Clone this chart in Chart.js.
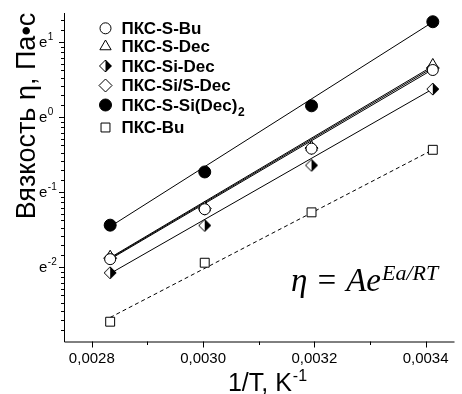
<!DOCTYPE html>
<html>
<head>
<meta charset="utf-8">
<script src="https://cdn.jsdelivr.net/npm/chart.js@4.4.1/dist/chart.umd.min.js"></script>
<style>
  html, body { margin: 0; padding: 0; background: #fff; }
  #wrap { width: 462px; height: 394px; }
</style>
</head>
<body>
<div id="wrap"><canvas id="chart" width="462" height="394"></canvas></div>
<script>
// 1/T, K^-1 (80, 60, 40, 20 °C)
const invT = [0.002833, 0.003003, 0.003195, 0.003413];
// ends of the Arrhenius fit lines
const fitX = [0.002833, 0.003413];

const seriesNames = ['ПКС-S-Bu', 'ПКС-S-Dec', 'ПКС-Si-Dec', 'ПКС-Si/S-Dec', 'ПКС-S-Si(Dec)', 'ПКС-Bu'];

// viscosity, Pa*s
const etaSBu = [0.150, 0.292, 0.655, 1.87];
const etaSDec = [0.155, 0.298, 0.668, 2.00];
const etaSiDec = [0.125, 0.235, 0.524, 1.45];
const etaSiSDec = [0.152, 0.294, 0.660, 1.92];
const etaSSiDec2 = [0.236, 0.480, 1.16, 3.56];
const etaBu = [0.0651, 0.143, 0.280, 0.645];

// fit line values at fitX
const fitSBu = [0.150, 1.885];
const fitSDec = [0.153, 1.97];
const fitSiDec = [0.1238, 1.453];
const fitSiSDec = [0.1515, 1.93];
const fitSSiDec2 = [0.2315, 3.547];
const fitBu = [0.0689, 0.645];

const xTicks = [0.0028, 0.0030, 0.0032, 0.0034];
const xMinorTicks = [0.0029, 0.0031, 0.0033];
const yTickPowers = [-2, -1, 0, 1];

const SANS = '"Liberation Sans", Arial, sans-serif';
const SERIF = '"Liberation Serif", "Times New Roman", serif';

function halfDiamond(r) {
  const s = Math.ceil(2 * r + 2);
  const c = document.createElement('canvas');
  c.width = s; c.height = s;
  const g = c.getContext('2d');
  const m = s / 2;
  const outline = () => {
    g.beginPath();
    g.moveTo(m, m - r); g.lineTo(m + r, m); g.lineTo(m, m + r); g.lineTo(m - r, m);
    g.closePath();
  };
  outline(); g.fillStyle = '#fff'; g.fill();
  g.beginPath();
  g.moveTo(m, m - r); g.lineTo(m + r, m); g.lineTo(m, m + r); g.closePath();
  g.fillStyle = '#000'; g.fill();
  outline(); g.lineWidth = 1; g.strokeStyle = '#000'; g.stroke();
  return c;
}
const halfDia = halfDiamond(6);

const markers = [
  { style: 'circle', radius: 5.5, fill: '#fff' },
  { style: 'triangle', radius: 6.5, fill: '#fff' },
  { style: halfDia, radius: 6, fill: '#fff' },
  { style: 'rectRot', radius: 6.5, fill: '#fff' },
  { style: 'circle', radius: 6, fill: '#000' },
  { style: 'rect', radius: 6.3, fill: '#fff' }
];

const pointSets = [etaSBu, etaSDec, etaSiDec, etaSiSDec, etaSSiDec2, etaBu];
const fitSets = [fitSBu, fitSDec, fitSiDec, fitSiSDec, fitSSiDec2, fitBu];

const datasets = [];
fitSets.forEach((f, i) => {
  datasets.push({
    label: seriesNames[i] + ' fit',
    data: fitX.map((x, j) => ({ x: x, y: f[j] })),
    showLine: true,
    borderColor: '#000',
    borderWidth: 1,
    borderDash: i === 5 ? [4, 3] : [],
    pointRadius: 0,
    order: 2
  });
});
pointSets.forEach((p, i) => {
  datasets.push({
    label: seriesNames[i],
    data: invT.map((x, j) => ({ x: x, y: p[j] })),
    showLine: false,
    pointStyle: markers[i].style,
    pointRadius: markers[i].radius,
    pointBackgroundColor: markers[i].fill,
    pointBorderColor: '#000',
    pointBorderWidth: 1,
    order: 1
  });
});

function drawMarker(ctx, m, x, y) {
  ctx.save();
  if (typeof m.style !== 'string') {
    ctx.drawImage(m.style, x - m.style.width / 2, y - m.style.height / 2);
  } else {
    ctx.fillStyle = m.fill;
    ctx.strokeStyle = '#000';
    ctx.lineWidth = 1;
    Chart.helpers.drawPoint(ctx, { pointStyle: m.style, radius: m.radius, rotation: 0, borderWidth: 1 }, x, y);
  }
  ctx.restore();
}

const decorPlugin = {
  id: 'decor',
  afterDraw(chart) {
    const ctx = chart.ctx;
    const xs = chart.scales.x, ys = chart.scales.y;
    const area = chart.chartArea;
    ctx.save();
    ctx.strokeStyle = '#000';
    ctx.fillStyle = '#000';
    ctx.lineWidth = 1;

    // axis lines
    ctx.beginPath();
    ctx.moveTo(area.left + 0.5, area.top);
    ctx.lineTo(area.left + 0.5, area.bottom + 0.5);
    ctx.lineTo(area.right, area.bottom + 0.5);
    ctx.stroke();

    // x ticks
    ctx.beginPath();
    xTicks.forEach(v => {
      const px = Math.round(xs.getPixelForValue(v)) + 0.5;
      ctx.moveTo(px, area.bottom); ctx.lineTo(px, area.bottom + 6);
    });
    xMinorTicks.forEach(v => {
      const px = Math.round(xs.getPixelForValue(v)) + 0.5;
      ctx.moveTo(px, area.bottom); ctx.lineTo(px, area.bottom + 3.5);
    });
    // y ticks (ln scale, minors linear within each e-decade)
    for (let n = -4; n <= 2; n++) {
      const lo = Math.exp(n), hi = Math.exp(n + 1);
      for (let k = 0; k < 10; k++) {
        const v = lo + k * (hi - lo) / 10;
        if (v < ys.min || v > ys.max) continue;
        const py = Math.round(ys.getPixelForValue(v)) + 0.5;
        ctx.moveTo(area.left, py); ctx.lineTo(area.left - (k === 0 ? 5 : 3), py);
      }
    }
    ctx.stroke();

    // y tick labels e^n
    yTickPowers.forEach(p => {
      const py = ys.getPixelForValue(Math.exp(p));
      ctx.font = '15px ' + SANS;
      ctx.textAlign = 'left';
      ctx.textBaseline = 'alphabetic';
      ctx.fillText('e', 39, py + 5);
      const w = ctx.measureText('e').width;
      ctx.font = '10px ' + SANS;
      ctx.fillText(p < 0 ? '-' + Math.abs(p) : String(p), 39 + w + 0.5, py - 2);
    });

    // axis titles
    ctx.font = '25px ' + SANS;
    ctx.textBaseline = 'alphabetic';
    ctx.textAlign = 'left';
    const t1 = '1/T, K';
    const w1 = ctx.measureText(t1).width;
    ctx.font = '16px ' + SANS;
    const w2 = ctx.measureText('-1').width;
    const x0 = 267 - (w1 + w2) / 2;
    ctx.font = '25px ' + SANS;
    ctx.fillText(t1, x0, 391);
    ctx.font = '16px ' + SANS;
    ctx.fillText('-1', x0 + w1 + 1, 381);

    ctx.save();
    ctx.translate(35, 116);
    ctx.rotate(-Math.PI / 2);
    ctx.font = '27px ' + SANS;
    ctx.textAlign = 'center';
    ctx.fillText('Вязкость η, Па•с', 0, 0);
    ctx.restore();

    // legend
    const rows = [28.3, 46.5, 66, 85.5, 105, 127.5];
    seriesNames.forEach((name, i) => {
      drawMarker(ctx, markers[i], 105.5, rows[i]);
      ctx.font = 'bold 17px ' + SANS;
      ctx.textAlign = 'left';
      ctx.textBaseline = 'middle';
      ctx.fillText(name, 121.5, rows[i] + 1);
      if (i === 4) {
        const w = ctx.measureText(name).width;
        ctx.font = 'bold 12px ' + SANS;
        ctx.fillText('2', 121.5 + w + 0.5, rows[i] + 8);
      }
    });

    // Arrhenius equation
    ctx.textBaseline = 'alphabetic';
    ctx.textAlign = 'left';
    ctx.font = 'italic 33px ' + SERIF;
    const eq = 'η = Ae';
    ctx.fillText(eq, 291, 290.5);
    const we = ctx.measureText(eq).width;
    ctx.font = 'italic 22px ' + SERIF;
    ctx.fillText('Ea/RT', 291 + we + 1, 280);

    ctx.restore();
  }
};

new Chart(document.getElementById('chart'), {
  type: 'scatter',
  data: { datasets: datasets },
  options: {
    responsive: false,
    animation: false,
    devicePixelRatio: 1,
    layout: { padding: { top: 13, right: 0, bottom: 0, left: 0 } },
    plugins: { legend: { display: false }, tooltip: { enabled: false } },
    scales: {
      x: {
        type: 'linear',
        min: 0.00275,
        max: 0.003452,
        grid: { display: false, drawTicks: false },
        border: { display: false },
        afterBuildTicks: s => { s.ticks = xTicks.map(v => ({ value: v })); },
        afterFit: s => { s.height = 52.5; },
        ticks: {
          color: '#000',
          font: { family: SANS, size: 15 },
          padding: 8,
          maxRotation: 0,
          autoSkip: false,
          callback: v => v.toFixed(4).replace('.', ',')
        }
      },
      y: {
        type: 'logarithmic',
        min: 0.05,
        max: 4,
        grid: { display: false },
        border: { display: false },
        ticks: { display: false },
        afterFit: s => { s.width = 64; }
      }
    }
  },
  plugins: [decorPlugin]
});
</script>
</body>
</html>
